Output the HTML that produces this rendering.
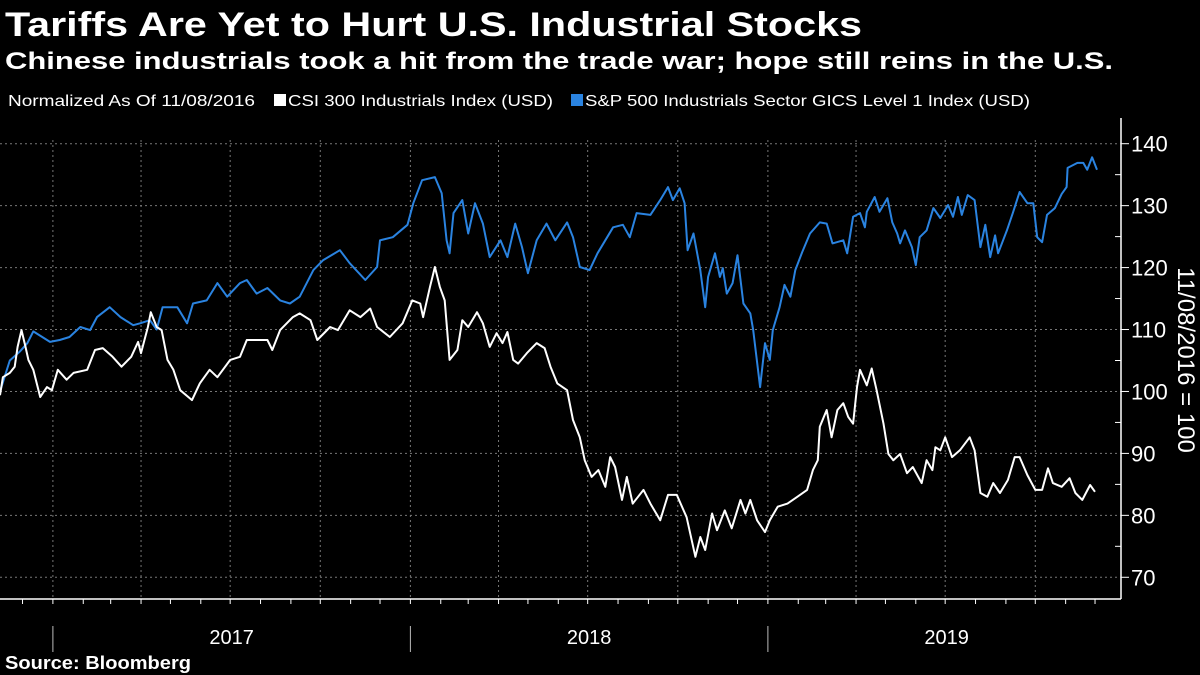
<!DOCTYPE html>
<html><head><meta charset="utf-8"><style>
html,body{margin:0;padding:0;background:#000;}
svg{display:block;font-family:"Liberation Sans",sans-serif;}
</style></head><body>
<svg id="chart" width="1200" height="675" viewBox="0 0 1200 675" xmlns="http://www.w3.org/2000/svg">
<rect width="1200" height="675" fill="#000"/>
<text x="5" y="36" font-size="34" font-weight="bold" fill="#fff" textLength="857" lengthAdjust="spacingAndGlyphs">Tariffs Are Yet to Hurt U.S. Industrial Stocks</text>
<text x="5" y="69" font-size="24" font-weight="bold" fill="#fff" textLength="1108" lengthAdjust="spacingAndGlyphs">Chinese industrials took a hit from the trade war; hope still reins in the U.S.</text>
<g>
<text x="8" y="106" font-size="16" fill="#fff" textLength="247" lengthAdjust="spacingAndGlyphs">Normalized As Of 11/08/2016</text>
<g>
<rect x="274" y="94" width="12" height="12" fill="#fff"/>
<text x="288" y="106" font-size="16" fill="#fff" textLength="265" lengthAdjust="spacingAndGlyphs">CSI 300 Industrials Index (USD)</text>
</g>
<g>
<rect x="571" y="94" width="12" height="12" fill="#2a83e0"/>
<text x="585" y="106" font-size="16" fill="#fff" textLength="445" lengthAdjust="spacingAndGlyphs">S&amp;P 500 Industrials Sector GICS Level 1 Index (USD)</text>
</g>
</g>
<g id="grid"></g>
<g id="axes"></g>
<g id="series"></g>
<text transform="translate(1178,360) rotate(90)" text-anchor="middle" font-size="24" fill="#fff">11/08/2016 = 100</text>
<text x="5" y="669" font-size="18" font-weight="bold" fill="#fff" textLength="186" lengthAdjust="spacingAndGlyphs">Source: Bloomberg</text>
</svg>
<script>
// days since 11/08/2016
const csiDays = [0,3,10,15,18,22,26,29,34,41,48,53,59,68,75,89,97,105,115,124,134,141,144,151,154,160,165,171,177,184,196,204,214,222,235,245,252,262,273,278,286,299,306,317,324,337,345,357,368,378,385,398,411,421,429,432,439,444,449,454,459,467,472,478,487,493,500,507,513,518,524,529,538,548,556,562,569,579,585,592,597,604,611,618,623,628,635,640,646,657,664,674,682,691,701,710,715,720,727,732,740,747,756,761,766,773,781,786,794,804,814,824,830,835,837,844,849,855,861,866,871,875,878,885,890,895,902,907,912,919,926,932,941,946,952,955,960,965,972,980,990,995,1001,1008,1014,1021,1029,1036,1041,1049,1057,1064,1070,1075,1084,1092,1098,1105,1113,1118];
const csiValues = [99.4,102.3,103,104,107.2,109.9,107.2,105.1,103.5,99.1,100.7,100.2,103.5,101.9,103,103.5,106.7,107,105.6,104,105.6,108,106.2,110.4,112.8,110.4,109.9,105.1,103.5,100.2,98.6,101.3,103.5,102.3,105.1,105.6,108.3,108.3,108.3,106.7,109.9,112,112.6,111.5,108.3,110.4,109.9,113.1,112,113.4,110.4,108.8,111,114.7,114.2,112,116.9,120.1,116.9,114.7,105.1,106.7,111.5,110.4,112.8,111,107.2,109.4,107.8,109.6,105.1,104.5,106.2,107.8,107,104,101.3,100.2,95.4,92.6,88.9,86.2,87.3,84.6,89.4,87.8,82.5,86.2,81.9,84.1,81.9,79.2,83.3,83.3,79.7,73.3,76.5,74.4,80.3,77.6,80.8,77.9,82.5,80.3,82.5,79.2,77.3,79.2,81.4,81.9,83,84.1,87.3,88.9,94.3,97,92.6,97,98.1,95.9,94.8,100.7,103.5,101,103.7,100.2,94.8,89.9,88.9,89.9,86.8,87.8,85.2,88.9,87.3,91,90.5,92.6,89.4,90.5,92.6,90.5,83.6,83,85.2,83.6,85.7,89.4,89.4,86.5,84.1,84.1,87.6,85.2,84.6,86,83.6,82.5,84.9,83.8];
const spxDays = [0,10,20,28,34,51,61,71,82,92,99,112,123,136,143,153,160,166,181,191,197,211,222,232,245,252,262,273,286,296,306,320,330,347,357,373,385,388,401,416,422,431,444,451,456,459,463,472,478,485,493,500,511,518,526,533,539,548,558,567,579,585,592,602,610,618,626,636,643,650,664,674,682,687,694,699,702,708,715,720,723,730,735,738,742,748,753,759,766,769,776,781,786,789,796,801,807,812,819,827,837,844,850,861,865,871,878,883,885,893,898,906,911,916,919,924,931,935,939,946,953,960,968,973,978,982,988,995,1001,1006,1011,1016,1019,1028,1034,1041,1049,1055,1059,1064,1069,1077,1084,1089,1090,1100,1106,1110,1115,1120];
const spxValues = [100,105,106.4,107.8,109.7,108,108.3,108.8,110.4,109.9,112,113.6,112,110.7,111,111.5,110,113.6,113.6,111,114.2,114.7,117.5,115.3,117.5,118,115.8,116.7,114.7,114.2,115.3,119.6,121.2,122.8,120.7,118,120.1,124.4,124.9,126.9,130.4,134.1,134.6,132,124.4,122.3,128.8,130.9,125.5,130.4,127.1,121.7,124.4,121.7,127.1,123.3,119.1,124.4,127.1,124.4,127.3,124.9,120.1,119.6,122.3,124.4,126.5,126.9,124.9,128.8,128.5,130.9,133,130.9,132.8,130.4,122.8,125.5,119.6,113.6,118.5,122.3,118.5,119.9,115.8,117.5,122,114.2,112.6,109.9,100.7,107.8,105.1,109.9,113.6,117.2,115.3,119.6,122.5,125.5,127.3,127.1,123.9,124.4,122.3,128.2,128.8,126.5,129,131.4,129,131.2,127.3,125.5,123.9,126,123.3,120.4,124.9,126,129.6,128,130.1,128.2,131.4,128.5,131.7,130.9,123.3,126.9,121.7,125.2,122.3,126,128.8,132.2,130.4,130.4,124.9,124.1,128.5,129.6,131.9,133,136.1,136.9,136.9,135.8,137.8,135.8];
const yTicks = [70,80,90,100,110,120,130,140];
const yearLabels = ["2017","2018","2019"];

const NS = "http://www.w3.org/2000/svg";
const start = Date.UTC(2016,10,8);
const PX_PER_DAY = 357.5/365;
const xScale = d => d * PX_PER_DAY;
const yScale = v => 143.7 + (140 - v) * 6.194;
const dayOf = (y,m) => (Date.UTC(y,m,1) - start) / 864e5;
const AX = 1121, BY = 599;

function mk(tag, attrs, parent) {
  const el = document.createElementNS(NS, tag);
  for (const k in attrs) el.setAttribute(k, attrs[k]);
  parent.appendChild(el);
  return el;
}
const grid = document.getElementById('grid');
const axes = document.getElementById('axes');
const series = document.getElementById('series');

// horizontal gridlines + y tick labels
yTicks.forEach(v => {
  const y = yScale(v);
  const g = mk('line', {x1:0, x2:AX, y1:y, y2:y, stroke:'#777', 'stroke-width':1, 'stroke-dasharray':'2,3'}, grid);
  
  
  const t = mk('line', {x1:AX, x2:AX+8, y1:y, y2:y, stroke:'#fff', 'stroke-width':1}, axes);
  
  
  const lbl = mk('text', {x:AX+10, y:y+8, 'font-size':22, fill:'#fff'}, axes);
  lbl.textContent = v;
  
  
  if (v < 140) {
    const ym = yScale(v + 5);
    const mt = mk('line', {x1:AX-6, x2:AX, y1:ym, y2:ym, stroke:'#fff', 'stroke-width':1}, axes);
    
    
  }
});

// months: quarterly gridlines, monthly ticks
for (let y = 2016; y <= 2019; y++) {
  for (let m = 0; m < 12; m++) {
    const d = dayOf(y, m);
    if (d < 0) continue;
    const x = xScale(d);
    if (x > AX) continue;
    if (m % 3 === 0) {
      const gl = mk('line', {x1:x, x2:x, y1:140, y2:BY, stroke:'#777', 'stroke-width':1, 'stroke-dasharray':'2,3'}, grid);
      
      
    }
    const tk = mk('line', {x1:x, x2:x, y1:BY, y2:BY+5, stroke:'#fff', 'stroke-width':1}, axes);
    
    
  }
}
// year separators and labels
yearLabels.forEach((lab, i) => {
  const yr = parseInt(lab, 10);
  const x0 = xScale(dayOf(yr, 0));
  const x1 = Math.min(xScale(dayOf(yr + 1, 0)), AX);
  const sep = mk('line', {x1:x0, x2:x0, y1:626, y2:652, stroke:'#bbb', 'stroke-width':1}, axes);
  
  
  const t = mk('text', {x:(x0 + xScale(dayOf(yr + 1, 0))) / 2, y:644, 'font-size':20, fill:'#fff', 'text-anchor':'middle'}, axes);
  t.textContent = lab;
  
  
});
const xa = mk('line', {x1:0, x2:AX, y1:BY, y2:BY, stroke:'#fff', 'stroke-width':1.5}, axes);


const ya = mk('line', {x1:AX, x2:AX, y1:118, y2:BY, stroke:'#fff', 'stroke-width':1.5}, axes);



function drawLine(days, vals, color, name) {
  const pts = days.map((d, i) => xScale(d).toFixed(1) + ',' + yScale(vals[i]).toFixed(1)).join(' ');
  const pl = mk('polyline', {points:pts, fill:'none', stroke:color, 'stroke-width':2, 'stroke-linejoin':'round'}, series);
  
  
}
drawLine(spxDays, spxValues, '#2a83e0', 'line-sp500-industrials');
drawLine(csiDays, csiValues, '#ffffff', 'line-csi300-industrials');
</script>
</body></html>
